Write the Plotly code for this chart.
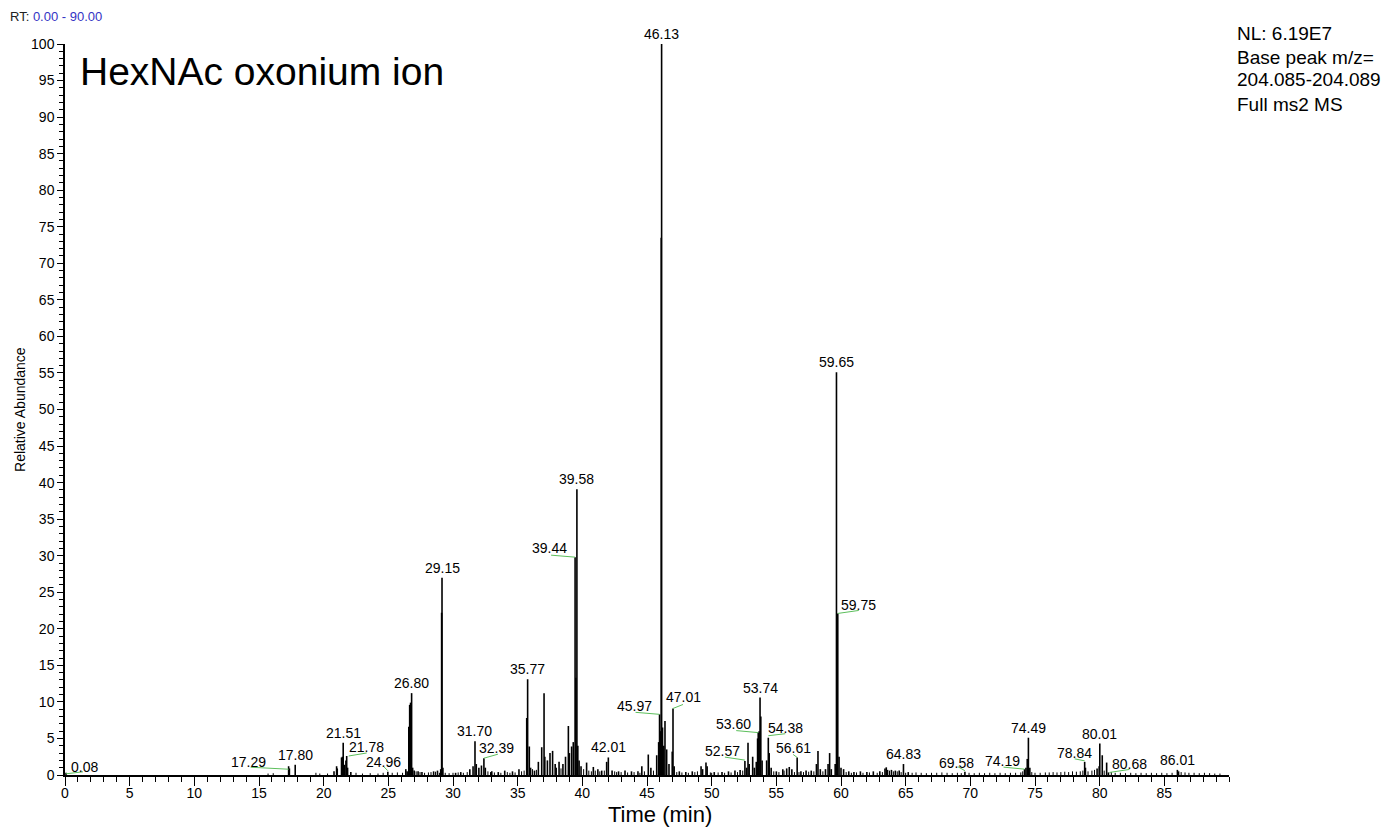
import plotly.graph_objects as go

# ---------------- data ----------------
peak_rt = [0.08, 17.29, 17.35, 17.80, 20.8, 21.0, 21.05, 21.38, 21.45, 21.51, 21.60, 21.72, 21.78, 21.85, 22.1,
           24.96, 26.35, 26.45, 26.58, 26.65, 26.72, 26.80, 26.88, 27.0, 27.3, 27.6,
           28.5, 28.8, 29.05, 29.12, 29.15, 29.22,
           30.2, 30.6, 31.3, 31.55, 31.70, 31.8, 32.0, 32.2, 32.39, 32.5, 33.0, 33.5, 34.0, 34.6, 35.1,
           35.7, 35.77, 35.9, 36.0, 36.3, 36.6, 36.86, 37.04, 37.1, 37.3, 37.5, 37.7, 37.9, 38.2, 38.5, 38.7,
           38.92, 39.0, 39.17, 39.3, 39.44, 39.5, 39.58, 39.65, 39.75, 39.9,
           40.33, 40.85, 41.2, 41.5, 41.88, 42.01, 42.3, 42.8, 43.3, 43.8, 44.3, 44.6,
           45.1, 45.3, 45.75, 45.9, 45.97, 46.05, 46.10, 46.13, 46.2, 46.3, 46.39, 46.52, 46.7, 46.95, 47.01,
           47.1, 47.5, 48.0, 48.5, 49.18, 49.3, 49.56, 49.65, 50.2, 50.8, 51.3, 51.8, 52.2,
           52.57, 52.7, 52.81, 52.9, 53.17, 53.3, 53.45, 53.55, 53.60, 53.67, 53.74, 53.8, 53.9, 54.25, 54.38,
           54.45, 54.6, 55.0, 55.5, 55.8, 56.0, 56.2, 56.61, 56.9, 57.3, 57.7, 58.1, 58.22, 58.4, 58.8, 59.0,
           59.12, 59.25, 59.55, 59.65, 59.75, 59.85, 60.0, 60.2, 60.6, 61.0, 61.5, 62.0, 62.5, 63.0, 63.4,
           63.5, 63.6, 63.9, 64.2, 64.5, 64.83, 65.2, 69.58, 74.19, 74.3, 74.4, 74.49, 74.6, 78.84, 78.9,
           79.8, 79.96, 80.01, 80.2, 80.54, 80.68, 86.01, 86.1]
peak_abund = [0.3, 1.2, 0.9, 1.4, 0.5, 1.2, 0.9, 2.4, 2.5, 4.4, 1.4, 2.0, 2.6, 1.0, 0.4,
              0.45, 0.8, 0.5, 6.6, 9.6, 9.9, 11.2, 1.0, 0.6, 0.5, 0.4,
              0.5, 0.6, 0.8, 22.2, 27.0, 1.0,
              0.3, 0.4, 0.8, 1.2, 4.6, 1.5, 1.0, 1.3, 2.3, 1.0, 0.5, 0.4, 0.6, 0.5, 0.8,
              7.8, 13.1, 3.9, 1.0, 0.6, 1.8, 3.8, 11.2, 2.5, 2.0, 3.0, 3.3, 1.5, 1.8, 1.5, 2.5,
              6.7, 3.0, 3.9, 4.5, 29.8, 13.3, 39.1, 4.0, 2.0, 1.2,
              1.7, 1.1, 0.8, 0.6, 1.8, 2.4, 0.6, 0.5, 0.6, 0.5, 0.5, 1.2,
              2.8, 1.0, 2.7, 4.5, 8.3, 6.0, 73.5, 100.0, 6.5, 4.0, 7.4, 3.5, 1.5, 3.2, 9.1,
              1.2, 0.5, 0.4, 0.5, 1.2, 0.8, 1.7, 1.2, 0.4, 0.4, 0.5, 0.6, 0.7,
              1.9, 1.0, 4.4, 1.5, 2.5, 1.0, 1.8, 5.0, 5.8, 6.0, 10.6, 8.0, 2.0, 2.0, 5.1,
              3.0, 1.0, 0.5, 0.8, 0.9, 1.1, 0.8, 2.4, 0.5, 0.6, 0.6, 1.5, 3.3, 0.8, 0.8, 1.5,
              3.0, 0.8, 1.5, 55.1, 22.1, 2.5, 1.0, 0.8, 0.5, 0.4, 0.5, 0.4, 0.5, 0.5, 0.9,
              1.05, 0.7, 0.7, 0.6, 0.6, 1.5, 0.4, 0.45, 0.8, 1.0, 2.2, 5.1, 1.0, 1.8, 1.0,
              0.9, 1.2, 4.3, 2.7, 1.7, 0.35, 0.7, 0.5]

baseline_rt = [15.7, 16.1, 19.4, 19.7, 20.3, 22.5, 23.0, 23.6, 24.2, 24.6, 25.3, 25.7,
               26.1, 26.5, 27.15, 27.45, 27.8, 28.1, 28.3, 28.65, 28.95, 29.4, 29.7, 30.0, 30.4, 30.8, 31.1,
               32.7, 32.9, 33.2, 33.7, 34.2, 34.4, 34.8, 35.3, 35.5, 36.15, 36.45, 38.0, 38.35,
               40.1, 40.5, 40.7, 41.0, 41.35, 41.7, 42.5, 42.65, 43.0, 43.5, 44.0, 44.45, 44.8, 45.5,
               47.3, 47.7, 48.2, 48.7, 48.9, 49.9, 50.0, 50.5, 51.0, 51.5, 52.0, 52.4,
               54.8, 55.2, 55.6, 56.4, 56.75, 57.1, 57.5, 57.9, 58.6,
               60.4, 60.8, 61.2, 61.7, 62.2, 62.8, 63.2, 63.75, 64.05, 64.35, 64.65, 65.0, 65.5, 65.8,
               66.2, 66.6, 67.0, 67.4, 67.8, 68.2, 68.6, 69.0, 69.3, 69.9, 70.3, 70.7, 71.1, 71.5, 71.9,
               72.3, 72.7, 73.1, 73.5, 73.9, 74.05, 74.75, 75.0, 75.4, 75.8, 76.1, 76.4, 76.7, 77.0,
               77.3, 77.6, 77.9, 78.2, 78.5, 78.7, 79.1, 79.4, 79.6, 80.35, 80.9, 81.2, 81.6, 82.0,
               82.4, 82.8, 83.2, 83.6, 84.0, 84.4, 84.8, 85.2, 85.6, 86.3, 86.6, 86.9, 87.3, 87.7,
               88.1, 88.5, 88.9, 89.3]
baseline_abund = [0.2, 0.25, 0.3, 0.2, 0.2, 0.3, 0.2, 0.25, 0.2, 0.3, 0.3, 0.35,
                  0.3, 0.4, 0.5, 0.4, 0.3, 0.35, 0.4, 0.45, 0.3, 0.3, 0.25, 0.3, 0.35, 0.3, 0.4,
                  0.5, 0.4, 0.35, 0.3, 0.4, 0.3, 0.35, 0.5, 0.6, 0.8, 0.7, 1.0, 0.9,
                  0.8, 0.6, 0.5, 0.6, 0.5, 0.6, 0.5, 0.4, 0.4, 0.35, 0.4, 0.3, 0.5, 0.6,
                  0.4, 0.35, 0.3, 0.4, 0.5, 0.35, 0.3, 0.35, 0.3, 0.35, 0.4, 0.6,
                  0.5, 0.4, 0.6, 0.4, 0.4, 0.4, 0.45, 0.5, 0.5,
                  0.4, 0.3, 0.35, 0.3, 0.35, 0.3, 0.4, 0.6, 0.5, 0.5, 0.4, 0.3, 0.3, 0.35,
                  0.3, 0.25, 0.3, 0.3, 0.35, 0.3, 0.25, 0.3, 0.25, 0.3, 0.25, 0.3, 0.25, 0.3, 0.25,
                  0.3, 0.25, 0.3, 0.3, 0.35, 0.5, 0.4, 0.3, 0.3, 0.35, 0.35, 0.4, 0.35, 0.4,
                  0.45, 0.4, 0.5, 0.45, 0.5, 0.6, 0.5, 0.6, 0.7, 0.6, 0.4, 0.3, 0.3, 0.25,
                  0.3, 0.25, 0.3, 0.25, 0.3, 0.25, 0.3, 0.25, 0.3, 0.4, 0.35, 0.3, 0.3, 0.25,
                  0.3, 0.25, 0.2, 0.2]

label_rt = [0.08, 17.29, 17.80, 21.51, 21.78, 24.96, 26.80, 29.15, 31.70, 32.39, 35.77, 39.44,
            39.58, 42.01, 45.97, 46.13, 47.01, 52.57, 53.60, 53.74, 54.38, 56.61, 59.65, 59.75,
            64.83, 69.58, 74.19, 74.49, 78.84, 80.01, 80.68, 86.01]
label_abund = [0.3, 1.2, 1.4, 4.4, 2.6, 0.45, 11.2, 27.0, 4.6, 2.3, 13.1, 29.8,
               39.1, 2.4, 8.3, 100.0, 9.1, 1.9, 5.8, 10.6, 5.1, 2.4, 55.1, 22.1,
               1.5, 0.45, 0.8, 5.1, 1.8, 4.3, 0.35, 0.7]

x_ticks = list(range(0, 90, 5))
y_ticks = list(range(0, 101, 5))

# ---------------- label placement (pixels; text dx, dy, leader line) ----------------
ABOVE = ((0, -10), None)
label_style = {
    0.08: ((18, -6), ((0, 1), (17, -1))),
    17.29: ((-40, -4), ((-38, 1), (0, 3))),
    21.78: ((20, -9), ((2, 0), (20, -3))),
    24.96: ((-4, -10), ((-4, -5), (0, -1))),
    32.39: ((13, -10), ((0, 0), (14, -4))),
    39.44: ((-26, -9), ((-24, -2), (0, 0))),
    45.97: ((-25, -8), ((-24, -2), (0, 0))),
    47.01: ((10, -11), ((0, 0), (10, -4))),
    52.57: ((-22, -10), ((-20, -4), (0, -1))),
    53.60: ((-25, -9), ((-22, -2), (0, 0))),
    54.38: ((17, -10), ((0, -2), (17, -4))),
    56.61: ((-4, -9), ((-4, -3), (0, 0))),
    59.75: ((21, -8), ((0, 0), (21, -3))),
    69.58: ((-8, -9), ((-7, -5), (0, -1))),
    74.19: ((-22, -8), ((-21, -2), (0, 0))),
    78.84: ((-10, -9), ((-10, -3), (0, -1))),
    80.68: ((21, -8), ((1, 0), (21, -3))),
}

FONT = "Liberation Sans, Arial, sans-serif"
GREEN = "#5cbf5c"


def sticks(xs, ys):
    sx, sy = [], []
    for t, h in zip(xs, ys):
        sx += [t, t, None]
        sy += [0, h, None]
    return sx, sy


fig = go.Figure()
bx, by = sticks(baseline_rt, baseline_abund)
fig.add_trace(go.Scatter(x=bx, y=by, mode="lines", line=dict(color="black", width=1),
                         hoverinfo="skip", showlegend=False))
px_, py_ = sticks(peak_rt, peak_abund)
fig.add_trace(go.Scatter(x=px_, y=py_, mode="lines", line=dict(color="black", width=1.6),
                         hoverinfo="skip", showlegend=False))

annotations = []
shapes = []
for t, h in zip(label_rt, label_abund):
    (dx, dy), line = label_style.get(t, ABOVE)
    annotations.append(dict(x=t, y=h, xref="x", yref="y", text=f"{t:.2f}", showarrow=False,
                            xshift=dx, yshift=-dy, xanchor="center", yanchor="middle",
                            font=dict(family=FONT, size=14, color="black")))
    if line is not None:
        (x0, y0), (x1, y1) = line
        shapes.append(dict(type="line", xref="x", yref="y", xsizemode="pixel", ysizemode="pixel",
                           xanchor=t, yanchor=h, x0=x0, x1=x1, y0=-y0, y1=-y1,
                           line=dict(color=GREEN, width=1)))

annotations += [
    dict(x=0.0112, y=0.9617, xref="paper", yref="paper", text="HexNAc oxonium ion",
         showarrow=False, xanchor="left", yanchor="middle",
         font=dict(family=FONT, size=39, color="black")),
    dict(x=-0.049, y=1.0383, xref="paper", yref="paper",
         text="RT: <span style='color:#3434c4'>0.00 - 90.00</span>",
         showarrow=False, xanchor="left", yanchor="middle",
         font=dict(family=FONT, size=13, color="#222222")),
    dict(x=1.0052, y=1.0137, xref="paper", yref="paper", text="NL: 6.19E7",
         showarrow=False, xanchor="left", yanchor="middle", font=dict(family=FONT, size=19, color="black")),
    dict(x=1.0052, y=0.9822, xref="paper", yref="paper", text="Base peak m/z=",
         showarrow=False, xanchor="left", yanchor="middle", font=dict(family=FONT, size=19, color="black")),
    dict(x=1.0052, y=0.9508, xref="paper", yref="paper", text="204.085-204.089",
         showarrow=False, xanchor="left", yanchor="middle", font=dict(family=FONT, size=19, color="black")),
    dict(x=1.0052, y=0.9179, xref="paper", yref="paper", text="Full ms2 MS",
         showarrow=False, xanchor="left", yanchor="middle", font=dict(family=FONT, size=19, color="black")),
    dict(x=-0.0387, y=0.5007, xref="paper", yref="paper", text="Relative Abundance",
         showarrow=False, textangle=-90, xanchor="center", yanchor="middle",
         font=dict(family=FONT, size=14, color="black")),
    dict(x=0.511, y=-0.0547, xref="paper", yref="paper", text="Time (min)",
         showarrow=False, xanchor="center", yanchor="middle",
         font=dict(family=FONT, size=22, color="black")),
]

# the page body has an 8px margin, so the figure is shrunk by 8px and margins shifted
fig.update_layout(
    width=1381, height=819,
    margin=dict(l=57, r=160, t=36, b=52, pad=0),
    paper_bgcolor="white", plot_bgcolor="white",
    showlegend=False,
    annotations=annotations, shapes=shapes,
    font=dict(family=FONT, size=14, color="black"),
)
fig.update_xaxes(range=[0, 90], tickvals=x_ticks, ticks="outside", ticklen=9, tickwidth=1,
                 tickcolor="black", showline=True, linecolor="black", linewidth=1.5,
                 showgrid=False, zeroline=False, tickfont=dict(family=FONT, size=14, color="black"),
                 ticklabelstandoff=-5,
                 minor=dict(dtick=1, ticks="outside", ticklen=5, tickcolor="black", tickwidth=1, showgrid=False))
fig.update_yaxes(range=[0, 100], tickvals=y_ticks, ticks="outside", ticklen=6, tickwidth=1,
                 tickcolor="black", showline=True, linecolor="black", linewidth=1.5,
                 showgrid=False, zeroline=False, tickfont=dict(family=FONT, size=14, color="black"),
                 minor=dict(dtick=1, ticks="outside", ticklen=4, tickcolor="black", tickwidth=1, showgrid=False))

fig.write_html("out.html")
